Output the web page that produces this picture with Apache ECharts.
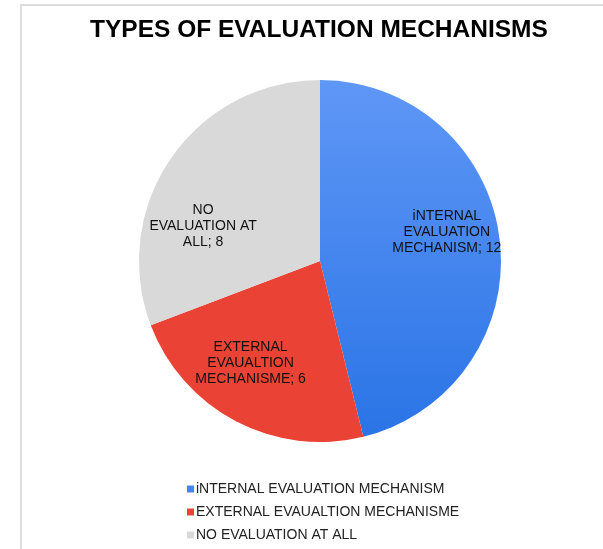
<!DOCTYPE html>
<html>
<head>
<meta charset="utf-8">
<title>Types of Evaluation Mechanisms</title>
<script src="https://cdn.jsdelivr.net/npm/echarts@6/dist/echarts.min.js"></script>
<style>
  html, body { margin: 0; padding: 0; background: #ffffff; }
  #frame {
    position: absolute; left: 20px; top: 4px; width: 583px; height: 545px;
    border-top: 2px solid #dcdcdc; border-left: 2px solid #dcdcdc;
    box-sizing: border-box;
  }
  #chart { position: absolute; left: 0; top: 0; width: 603px; height: 549px; }
</style>
</head>
<body>
<div id="frame"></div>
<div id="chart"></div>
<script>
// Categories and counts
const categories = [
  'iNTERNAL EVALUATION MECHANISM',
  'EXTERNAL EVAUALTION MECHANISME',
  'NO EVALUATION AT ALL'
];
const counts = [12, 6, 8];
// Wrapped versions of the category names used inside the slices
const sliceLabelNames = [
  'iNTERNAL\nEVALUATION\nMECHANISM',
  'EXTERNAL\nEVAUALTION\nMECHANISME',
  'NO\nEVALUATION AT\nALL'
];

// Styling
const sliceColors = [
  { type: 'linear', x: 0, y: 0, x2: 0, y2: 1,
    colorStops: [{ offset: 0, color: '#5f97f6' }, { offset: 1, color: '#2a74e6' }] },
  '#ea4335',
  '#d9d9d9'
];
const legendColors = ['#4285f4', '#ea4335', '#d9d9d9'];
const labelOffsets = [[34, -18], [-26, 19], [-40, 18]];

const FONT = '"Liberation Sans", Arial, Helvetica, sans-serif';

const chart = echarts.init(document.getElementById('chart'), null, { renderer: 'canvas' });

const pieData = categories.map((name, i) => ({
  name: name,
  value: counts[i],
  itemStyle: { color: sliceColors[i] },
  label: {
    offset: labelOffsets[i],
    formatter: sliceLabelNames[i] + '; ' + counts[i]
  }
}));

chart.setOption({
  backgroundColor: 'transparent',
  animation: false,
  title: {
    text: 'TYPES OF EVALUATION MECHANISMS',
    left: 85,
    top: 13,
    textStyle: { fontFamily: FONT, fontSize: 24.5, fontWeight: 'bold', color: '#000000' }
  },
  legend: {
    orient: 'vertical',
    left: 182,
    top: 476,
    height: 80,
    icon: 'rect',
    itemWidth: 7,
    itemHeight: 7,
    itemGap: 7,
    data: categories.map((name, i) => ({ name: name, itemStyle: { color: legendColors[i] } })),
    textStyle: { fontFamily: FONT, fontSize: 14, color: '#222222', lineHeight: 16, padding: [0, 0, 0, -3] }
  },
  series: [{
    type: 'pie',
    center: [320, 261],
    radius: [0, 181],
    startAngle: 90,
    clockwise: true,
    avoidLabelOverlap: false,
    label: {
      show: true,
      position: 'inside',
      fontFamily: FONT,
      fontSize: 14,
      lineHeight: 16,
      color: '#111111',
      align: 'center'
    },
    labelLine: { show: false },
    emphasis: { disabled: true },
    itemStyle: { borderWidth: 0 },
    data: pieData
  }]
});
</script>
</body>
</html>
